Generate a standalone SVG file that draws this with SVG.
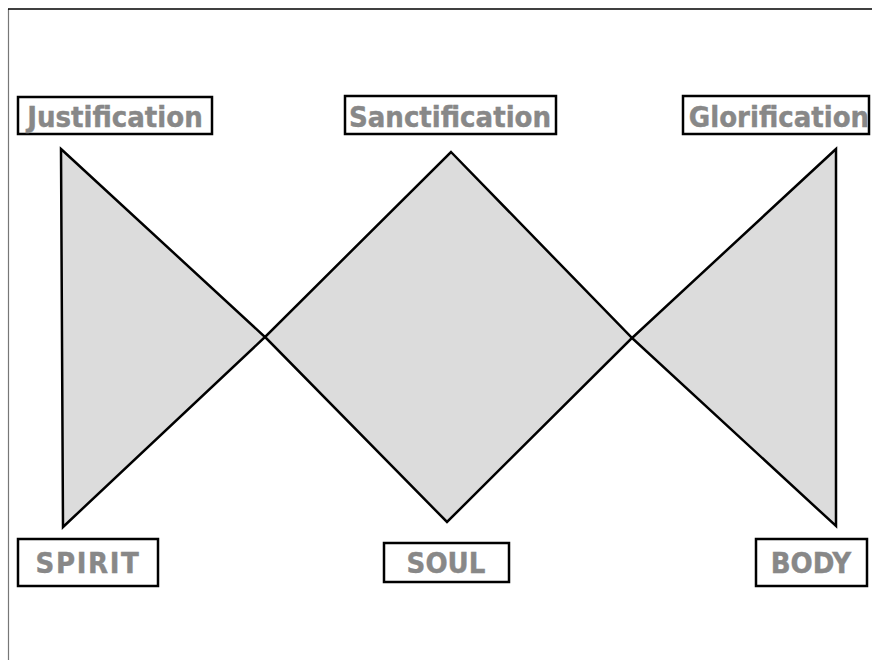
<svg xmlns="http://www.w3.org/2000/svg" width="872" height="660" viewBox="0 0 872 660">
<style>
.box{fill:#fff;stroke:#000;stroke-width:2.5}
.lbl{font-family:"DejaVu Sans Condensed","DejaVu Sans",sans-serif;font-stretch:condensed;font-weight:bold;font-size:29px;fill:#888;stroke:#888;stroke-width:0.4;text-anchor:middle}
.shape{fill:#dcdcdc;stroke:#000;stroke-width:2.5;stroke-linejoin:miter}
</style>
<rect x="0" y="0" width="872" height="660" fill="#fff"/>
<line x1="8.5" y1="9" x2="8.5" y2="660" stroke="#777" stroke-width="1.2"/>
<line x1="8" y1="9" x2="872" y2="9" stroke="#000" stroke-width="1.5"/>
<g id="connectors">
<polygon class="shape" points="61,149 265,337 63,527"/>
<polygon class="shape" points="451,152 632,338 447,522 265,337"/>
<polygon class="shape" points="836,149 632,338 836,526"/>
</g>
<g id="justification"><rect class="box" x="18" y="97" width="194" height="37"/><text class="lbl" x="115" y="127">Justification</text></g>
<g id="sanctification"><rect class="box" x="345" y="96" width="211" height="38"/><text class="lbl" x="450" y="127">Sanctification</text></g>
<g id="glorification"><rect class="box" x="683" y="96" width="186" height="38"/><text class="lbl" x="779" y="127">Glorification</text></g>
<g id="spirit"><rect class="box" x="18" y="539" width="140" height="47"/><text class="lbl" x="88" y="573" letter-spacing="1.6">SPIRIT</text></g>
<g id="soul"><rect class="box" x="384" y="543" width="125" height="39"/><text class="lbl" x="446" y="573">SOUL</text></g>
<g id="body"><rect class="box" x="756" y="539" width="111" height="47"/><text class="lbl" x="811" y="573">BODY</text></g>
</svg>
